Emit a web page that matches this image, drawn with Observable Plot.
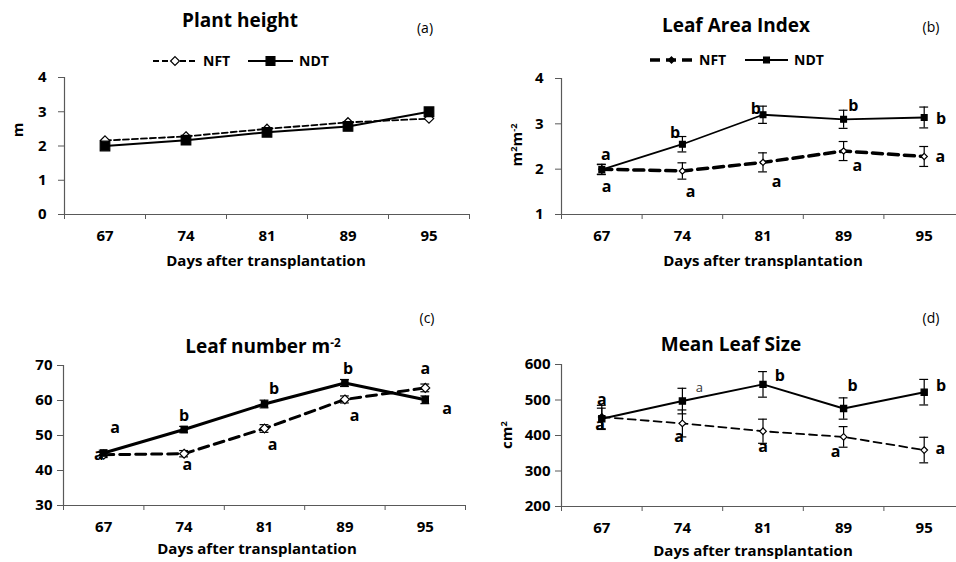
<!DOCTYPE html>
<html><head><meta charset="utf-8">
<script src="https://cdn.jsdelivr.net/npm/d3@7"></script>
<script src="https://cdn.jsdelivr.net/npm/@observablehq/plot@0.6"></script>
<style>
html,body{margin:0;padding:0;background:#fff;overflow:hidden;}
#root{position:relative;width:956px;height:562px;overflow:hidden;font-family:"Open Sans",sans-serif;color:#000;}
.abs{position:absolute;transform:translate(-50%,-50%);white-space:nowrap;line-height:1;}
.title{font-weight:700;font-size:19px;}
.tag{font-size:14px;}
.xt{font-weight:700;font-size:15px;}
.yl{font-weight:700;font-size:15px;transform:translate(-50%,-50%) rotate(-90deg);}
.sup{font-size:0.62em;position:relative;top:-0.55em;}
.panel{position:absolute;}
</style></head><body><div id="root"></div>
<script>
// ---------- data ----------
const days = ["67", "74", "81", "89", "95"];
const seriesNames = ["NFT", "NDT"];

// (a) Plant height (m)
const heightNFT = [2.16, 2.28, 2.50, 2.69, 2.80];
const heightNDT = [2.00, 2.17, 2.40, 2.57, 3.00];

// (b) Leaf Area Index (m2 m-2)
const laiNFT = [2.00, 1.96, 2.15, 2.40, 2.28];
const laiNFTerr = [0.11, 0.18, 0.21, 0.21, 0.22];
const laiNDT = [1.99, 2.55, 3.20, 3.10, 3.14];
const laiNDTerr = [0.11, 0.17, 0.19, 0.20, 0.23];
const laiLetters = [
  {day: "67", t: "a", y: 2.32, off: 0.05}, {day: "67", t: "a", y: 1.62, off: 0.06},
  {day: "74", t: "b", y: 2.81, off: -0.09}, {day: "74", t: "a", y: 1.51, off: 0.10},
  {day: "81", t: "b", y: 3.33, off: -0.09}, {day: "81", t: "a", y: 1.73, off: 0.17},
  {day: "89", t: "b", y: 3.40, off: 0.12}, {day: "89", t: "a", y: 2.08, off: 0.17},
  {day: "95", t: "b", y: 3.11, off: 0.21}, {day: "95", t: "a", y: 2.27, off: 0.20}
];

// (c) Leaf number m-2
const leafNFT = [44.5, 44.8, 52.0, 60.3, 63.6];
const leafNFTerr = [0.8, 0.9, 1.1, 1.0, 1.1];
const leafNDT = [45.0, 51.7, 59.0, 65.0, 60.2];
const leafNDTerr = [0.8, 0.9, 1.1, 1.0, 1.1];
const leafLetters = [
  {day: "67", t: "a", y: 52.1, off: 0.14}, {day: "67", t: "a", y: 44.5, off: -0.06},
  {day: "74", t: "b", y: 55.7, off: 0.0}, {day: "74", t: "a", y: 41.5, off: 0.04},
  {day: "81", t: "b", y: 63.3, off: 0.12}, {day: "81", t: "a", y: 47.4, off: 0.10},
  {day: "89", t: "b", y: 68.9, off: 0.04}, {day: "89", t: "a", y: 55.7, off: 0.12},
  {day: "95", t: "a", y: 68.9, off: 0.0}, {day: "95", t: "a", y: 57.7, off: 0.27}
];

// (d) Mean leaf size (cm2)
const sizeNFT = [452, 434, 412, 396, 359];
const sizeNFTerr = [33, 38, 34, 29, 36];
const sizeNDT = [447, 497, 544, 476, 522];
const sizeNDTerr = [30, 36, 36, 30, 36];
const sizeLetters = [
  {day: "67", t: "a", y: 501, off: 0.0}, {day: "67", t: "a", y: 431, off: -0.02},
  {day: "74", t: "a", y: 395, off: -0.04},
  {day: "81", t: "b", y: 567, off: 0.21}, {day: "81", t: "a", y: 368, off: 0.0},
  {day: "89", t: "b", y: 539, off: 0.11}, {day: "89", t: "a", y: 353, off: -0.10},
  {day: "95", t: "b", y: 539, off: 0.21}, {day: "95", t: "a", y: 362, off: 0.20}
];
const sizeSmallLetters = [{day: "74", t: "a", y: 534, off: 0.21}];

// ---------- drawing ----------
const root = document.getElementById("root");
const AX = "#595959";

function html(cls, x, y, content) {
  const d = document.createElement("div");
  d.className = "abs " + cls;
  d.style.left = x + "px";
  d.style.top = y + "px";
  d.innerHTML = content;
  root.appendChild(d);
}

function panel(cfg) {
  const {left, top, width, height, mL, mR, mT, mB, yDomain, yTicks, series, letters, smallLetters, tickPad} = cfg;
  const idx = d => days.indexOf(d.day) + 0.5 + d.off;
  const marks = [
    Plot.ruleY([yDomain[0]], {stroke: AX, strokeWidth: 1.2}),
    Plot.ruleX([0], {stroke: AX, strokeWidth: 1.2}),
    Plot.axisY({ticks: yTicks, tickSize: 6, tickPadding: tickPad, label: null, stroke: AX, fill: "#000", tickFormat: d3.format("d")}),
    Plot.axisX({ticks: d3.range(days.length + 1), tickSize: 5, tickFormat: () => "", label: null, stroke: AX}),
    Plot.axisX({ticks: days.map((d, i) => i + 0.5), tickSize: 0, tickPadding: 16, tickFormat: v => days[Math.floor(v)], label: null, fill: "#000"})
  ];
  for (const s of series) {
    const data = days.map((d, i) => ({x: i + 0.5, v: s.values[i], e: s.err ? s.err[i] : 0}));
    marks.push(Plot.line(data, {x: "x", y: "v", stroke: "#000", strokeWidth: s.sw, strokeDasharray: s.dash}));
    if (s.err) {
      marks.push(Plot.ruleX(data, {x: "x", y1: d => d.v - d.e, y2: d => d.v + d.e, stroke: "#000", strokeWidth: 1.2}));
      marks.push(Plot.ruleY(data, {y: d => d.v + d.e, x1: d => d.x - 0.055, x2: d => d.x + 0.055, stroke: "#000", strokeWidth: 1.2}));
      marks.push(Plot.ruleY(data, {y: d => d.v - d.e, x1: d => d.x - 0.055, x2: d => d.x + 0.055, stroke: "#000", strokeWidth: 1.2}));
    }
    marks.push(Plot.dot(data, {x: "x", y: "v", symbol: s.symbol, r: s.r, fill: s.fill, stroke: "#000", strokeWidth: 1.2}));
  }
  if (letters) marks.push(Plot.text(letters, {x: idx, y: "y", text: "t", fontSize: 16, fontWeight: "bold", fill: "#000"}));
  if (smallLetters) marks.push(Plot.text(smallLetters, {x: idx, y: "y", text: "t", fontSize: 13, fontWeight: "normal", fill: "#333"}));
  const svg = Plot.plot({
    width, height,
    marginLeft: mL, marginRight: mR, marginTop: mT, marginBottom: mB,
    x: {type: "linear", domain: [0, days.length], axis: null},
    y: {domain: yDomain, axis: null},
    style: {fontFamily: "'Open Sans', sans-serif", fontSize: "15px", fontWeight: "bold", color: "#000", background: "transparent", overflow: "visible"},
    marks
  });
  svg.classList.add("panel");
  svg.style.left = left + "px";
  svg.style.top = top + "px";
  root.appendChild(svg);
}

function legend(x, y, items) {
  const svg = d3.create("svg").attr("width", 200).attr("height", 20)
    .style("position", "absolute").style("left", x + "px").style("top", (y - 10) + "px").style("overflow", "visible");
  let cx = 0;
  for (const it of items) {
    svg.append("line").attr("x1", cx).attr("x2", cx + it.len).attr("y1", 10).attr("y2", 10)
      .attr("stroke", "#000").attr("stroke-width", it.sw).attr("stroke-dasharray", it.dash || null);
    const sym = d3.symbol(it.symbol === "square" ? d3.symbolSquare : d3.symbolDiamond2, Math.PI * it.r * it.r);
    svg.append("path").attr("d", sym()).attr("transform", `translate(${cx + it.len / 2},10)`)
      .attr("fill", it.fill).attr("stroke", "#000").attr("stroke-width", 1.2);
    svg.append("text").attr("x", cx + it.len + 6).attr("y", 10).attr("dy", "0.35em")
      .attr("font-family", "'Open Sans', sans-serif").attr("font-weight", "bold").attr("font-size", 14).text(it.name);
    cx += it.len + it.gap;
  }
  root.appendChild(svg.node());
}

// (a)
panel({left: 0, top: 0, width: 478, height: 281, mL: 64, mR: 9, mT: 77, mB: 67,
  yDomain: [0, 4], yTicks: [0, 1, 2, 3, 4], tickPad: 12,
  series: [
    {values: heightNFT, sw: 1.8, dash: "6,3", symbol: "diamond2", r: 4.2, fill: "#fff"},
    {values: heightNDT, sw: 2, symbol: "square", r: 5.4, fill: "#000"}
  ]});
html("title", 240, 20, "Plant height");
html("tag", 425, 28, "(a)");
html("yl", 17, 130, "m");
html("xt", 266, 260, "Days after transplantation");
legend(153, 61, [
  {name: seriesNames[0], len: 44, gap: 51, sw: 1.8, dash: "6,3", symbol: "diamond2", r: 4, fill: "#fff"},
  {name: seriesNames[1], len: 45, gap: 40, sw: 2, symbol: "square", r: 5, fill: "#000"}
]);

// (b)
panel({left: 478, top: 0, width: 490, height: 281, mL: 83, mR: 4, mT: 78, mB: 67,
  yDomain: [1, 4], yTicks: [1, 2, 3, 4], tickPad: 12,
  series: [
    {values: laiNFT, err: laiNFTerr, sw: 3.5, dash: "10,6", symbol: "diamond2", r: 2.8, fill: "#fff"},
    {values: laiNDT, err: laiNDTerr, sw: 1.8, symbol: "square", r: 3.3, fill: "#000"}
  ], letters: laiLetters});
html("title", 736, 25, "Leaf Area Index");
html("tag", 931, 27, "(b)");
html("yl", 516, 145, "m<span class='sup'>2</span>m<span class='sup'>-2</span>");
html("xt", 763, 260, "Days after transplantation");
legend(650, 60, [
  {name: seriesNames[0], len: 43, gap: 52, sw: 3.5, dash: "10,6", symbol: "diamond2", r: 2.8, fill: "#000"},
  {name: seriesNames[1], len: 43, gap: 40, sw: 1.8, symbol: "square", r: 3.3, fill: "#000"}
]);

// (c)
panel({left: 0, top: 281, width: 478, height: 281, mL: 63, mR: 13, mT: 84, mB: 57,
  yDomain: [30, 70], yTicks: [30, 40, 50, 60, 70], tickPad: 5,
  series: [
    {values: leafNFT, err: leafNFTerr, sw: 3, dash: "10,6", symbol: "diamond2", r: 4, fill: "#fff"},
    {values: leafNDT, err: leafNDTerr, sw: 3, symbol: "square", r: 3.5, fill: "#000"}
  ], letters: leafLetters});
html("title", 263, 346, "Leaf number m<span class='sup'>-2</span>");
html("tag", 427, 318, "(c)");
html("xt", 257, 548, "Days after transplantation");

// (d)
panel({left: 478, top: 281, width: 490, height: 281, mL: 83, mR: 4, mT: 83, mB: 56,
  yDomain: [200, 600], yTicks: [200, 300, 400, 500, 600], tickPad: 5,
  series: [
    {values: sizeNFT, err: sizeNFTerr, sw: 1.8, dash: "8,5", symbol: "diamond2", r: 3, fill: "#fff"},
    {values: sizeNDT, err: sizeNDTerr, sw: 2, symbol: "square", r: 3.5, fill: "#000"}
  ], letters: sizeLetters, smallLetters: sizeSmallLetters});
html("title", 731, 344, "Mean Leaf Size");
html("tag", 931, 318, "(d)");
html("yl", 506, 435, "cm<span class='sup'>2</span>");
html("xt", 753, 550, "Days after transplantation");
</script>
</body></html>
